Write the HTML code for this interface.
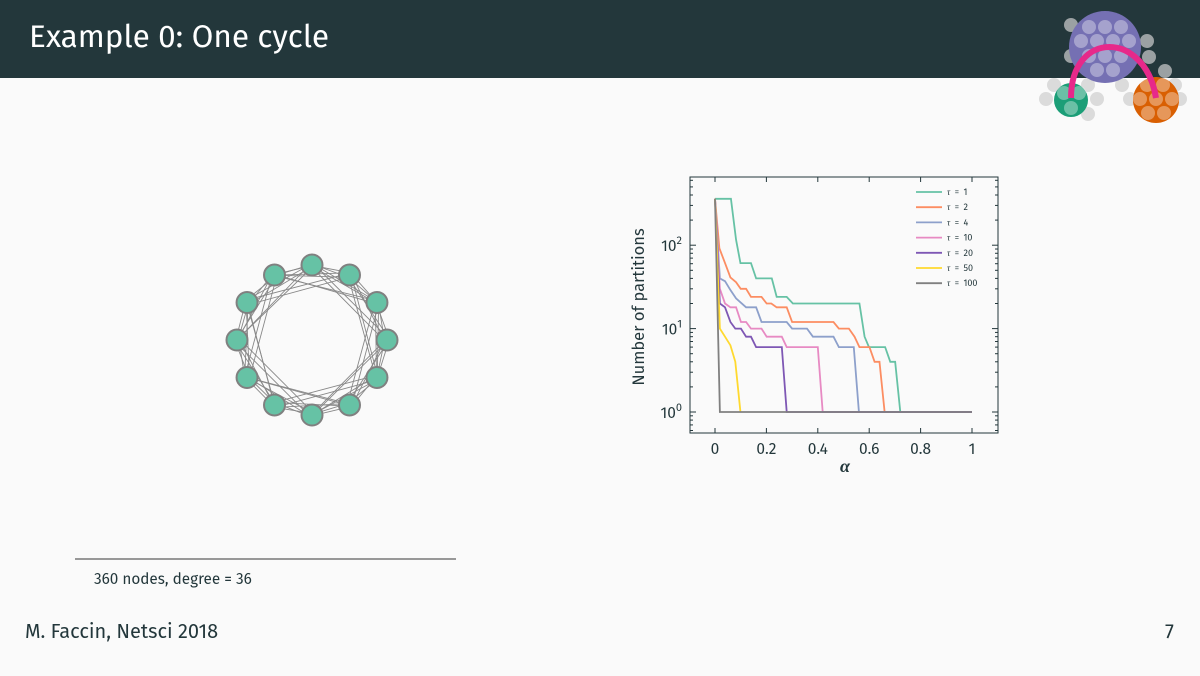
<!DOCTYPE html>
<html><head><meta charset="utf-8"><style>
body{margin:0;width:1200px;height:676px;background:#fafafa;font-family:"Fira Sans","Liberation Sans",sans-serif;overflow:hidden;position:relative}
.hdr{position:absolute;left:0;top:0;width:1200px;height:78px;background:#23373b}
.t{position:absolute;color:#fff;font-size:31.5px;left:29px;top:19px}
.txt{position:absolute;color:#23373b}
</style></head><body>
<div class="hdr"></div>
<div class="t">Example 0: One cycle</div>
<svg style="position:absolute;left:0;top:0" width="1200" height="676">
 <g>
  <g fill="#cfcfcf" opacity="0.7">
   <circle cx="1071" cy="25" r="7"/><circle cx="1147" cy="41" r="7"/><circle cx="1149" cy="57" r="7"/><circle cx="1071" cy="56" r="7"/><circle cx="1165" cy="71" r="7"/>
   <circle cx="1054" cy="85" r="7"/><circle cx="1088" cy="85" r="7"/><circle cx="1046" cy="99" r="7"/><circle cx="1097" cy="99" r="7"/><circle cx="1088" cy="114" r="7"/>
   <circle cx="1122" cy="85" r="7"/><circle cx="1130" cy="99" r="7"/><circle cx="1175" cy="85" r="7"/><circle cx="1180" cy="99" r="7"/>
  </g>
  <circle cx="1105" cy="47" r="36" fill="#7570b3"/>
  <circle cx="1071" cy="100" r="17" fill="#1b9e77"/>
  <circle cx="1156" cy="100" r="23" fill="#d95f02"/>
  <g fill="#fff" opacity="0.35">
   <circle cx="1089" cy="27" r="7"/><circle cx="1105" cy="27" r="7"/><circle cx="1121" cy="27" r="7"/>
   <circle cx="1081" cy="41" r="7"/><circle cx="1097" cy="41" r="7"/><circle cx="1113" cy="41" r="7"/><circle cx="1129" cy="41" r="7"/>
   <circle cx="1089" cy="56" r="7"/><circle cx="1105" cy="56" r="7"/><circle cx="1121" cy="56" r="7"/>
   <circle cx="1097" cy="70" r="7"/><circle cx="1113" cy="70" r="7"/>
   <circle cx="1064" cy="93" r="7"/><circle cx="1079" cy="93" r="7"/><circle cx="1071" cy="108" r="7"/>
   <circle cx="1147" cy="85" r="7"/><circle cx="1163" cy="85" r="7"/><circle cx="1140" cy="99" r="7"/><circle cx="1156" cy="99" r="7"/><circle cx="1172" cy="99" r="7"/><circle cx="1148" cy="113" r="7"/><circle cx="1164" cy="113" r="7"/>
  </g>
  <path d="M1071 98 C1071 30 1145 30 1156 98" fill="none" stroke="#e7298a" stroke-width="6"/>
 </g>
 <g id="net"></g>
 <line x1="75" y1="559" x2="456" y2="559" stroke="#777" stroke-width="1.5"/>
 <g id="chart"></g>
</svg>
<div class="txt" style="left:94px;top:571px;font-size:15.3px">360 nodes, degree = 36</div>
<div class="txt" style="left:25px;top:620px;font-size:20px">M. Faccin, Netsci 2018</div>
<div class="txt" style="left:1165px;top:620px;font-size:20px">7</div>
<script>
const tauLabels=["1","2","4","10","20","50","100"];
const colors=["#66c2a5","#fc8d62","#8da0cb","#e78ac3","#7e57b4","#ffd92f","#808080"];
const a1=[0,.062,.082,.099,.14,.16,.221,.24,.279,.303,.562,.582,.599,.662,.682,.701,.721,1];
const v1=[360,360,116,61,61,40,40,24,24,20,20,8,6,6,4,4,1,1];
const a2=[0,.017,.039,.06,.082,.1,.121,.14,.181,.201,.219,.24,.279,.3,.461,.482,.521,.543,.562,.601,.621,.64,.66,1];
const v2=[360,92,61,41,36,30,30,24,24,20,20,18,18,12,12,10,10,8,6,6,4,4,1,1];
const a4=[0,.019,.039,.06,.082,.121,.16,.181,.279,.3,.358,.381,.461,.482,.54,.56,1];
const v4=[360,40,37,29,23,18,18,12,12,10,10,8,8,6,6,1,1];
const a10=[0,.019,.039,.06,.082,.101,.121,.14,.181,.201,.26,.279,.4,.419,1];
const v10=[360,30,20,18,18,12,12,10,10,8,8,6,6,1,1];
const a20=[0,.019,.039,.06,.079,.101,.121,.14,.16,.26,.279,1];
const v20=[360,20,18,12,10,10,8,8,6,6,1,1];
const a50=[0,.019,.039,.06,.079,.099];
const v50=[360,10,8,6.3,4,1];
const a100=[0,.019,1];
const v100=[360,1,1];
const xTicks=[0,0.2,0.4,0.6,0.8,1];
const xTickLabels=["0","0.2","0.4","0.6","0.8","1"];
const yDecades=[0,1,2];

const NS="http://www.w3.org/2000/svg";
function mk(p,t,at){const e=document.createElementNS(NS,t);for(const k in at)e.setAttribute(k,at[k]);p.appendChild(e);return e;}
const L=690,R=998,T=177,B=433;
const X=a=>715+a*257;
const Y=v=>412-Math.log10(v)*83.4;
const ch=document.getElementById('chart');
const all=[[a1,v1],[a2,v2],[a4,v4],[a10,v10],[a20,v20],[a50,v50],[a100,v100]];
all.forEach((s,i)=>{
 const p=mk(ch,'polyline',{points:s[0].map((a,j)=>X(a)+','+Y(s[1][j])).join(' '),fill:'none',stroke:colors[i],'stroke-width':1.8});
 
 
});
const fr=mk(ch,'rect',{x:L,y:T,width:R-L,height:B-T,fill:'none',stroke:'#23373b','stroke-width':1});


xTicks.forEach((t,i)=>{
 mk(ch,'line',{x1:X(t),x2:X(t),y1:B,y2:B-5,stroke:'#23373b'});
 mk(ch,'line',{x1:X(t),x2:X(t),y1:T,y2:T+5,stroke:'#23373b'});
 const tx=mk(ch,'text',{x:X(t),y:B+21,'text-anchor':'middle','font-size':15.5,fill:'#23373b'});tx.textContent=xTickLabels[i];
 
 
});
for(let d=-1;d<=2;d++){for(let m=1;m<10;m++){const y=412-(d+Math.log10(m))*83.4;if(y<T||y>B)continue;const w=m==1?6:3;
 mk(ch,'line',{x1:L,x2:L+w,y1:y,y2:y,stroke:'#23373b'});mk(ch,'line',{x1:R,x2:R-w,y1:y,y2:y,stroke:'#23373b'});}}
yDecades.forEach(d=>{
 const tx=mk(ch,'text',{x:682,y:412-d*83.4+6,'text-anchor':'end','font-size':15.5,fill:'#23373b'});
 tx.innerHTML='10<tspan dy="-7" font-size="11">'+d+'</tspan>';
 
 
});
const yl=mk(ch,'text',{x:0,y:0,transform:'translate(644,307) rotate(-90)','text-anchor':'middle','font-size':16.5,fill:'#23373b'});yl.textContent='Number of partitions';


const xl=mk(ch,'text',{x:845,y:472,'text-anchor':'middle','font-size':18,'font-style':'italic','font-weight':'bold','font-family':'Liberation Serif,serif',fill:'#23373b'});xl.textContent='α';


tauLabels.forEach((t,i)=>{
 const y=192+i*15.2;
 const g=mk(ch,'g',{});
 
 
 mk(g,'line',{x1:916,x2:942,y1:y,y2:y,stroke:colors[i],'stroke-width':1.8});
 const tx=mk(g,'text',{x:947,y:y+3,'font-size':9,fill:'#23373b','word-spacing':'2px'});tx.innerHTML='<tspan font-style="italic" font-family="Liberation Serif,serif">τ</tspan> = '+t;
});
// network
const net=document.getElementById('net');
const n=12,cx=312,cy=340,Rr=75;
const pos=[];for(let i=0;i<n;i++){const a=-Math.PI/2+i*2*Math.PI/n;pos.push([cx+Rr*Math.cos(a),cy+Rr*Math.sin(a)]);}
for(let i=0;i<n;i++)for(let k=1;k<=3;k++){const j=(i+k)%n;
 for(const o of [-2.5,2.5]) mk(net,'line',{x1:pos[i][0]+o*Math.cos(i*2),y1:pos[i][1]+o*Math.sin(i*2),x2:pos[j][0]+o*Math.cos(j*2),y2:pos[j][1]+o*Math.sin(j*2),stroke:'#888','stroke-width':0.9});}
pos.forEach(p=>{const c=mk(net,'circle',{cx:p[0],cy:p[1],r:10.5,fill:'#66c2a5',stroke:'#808080','stroke-width':2});
 
 });
</script>
</body></html>
